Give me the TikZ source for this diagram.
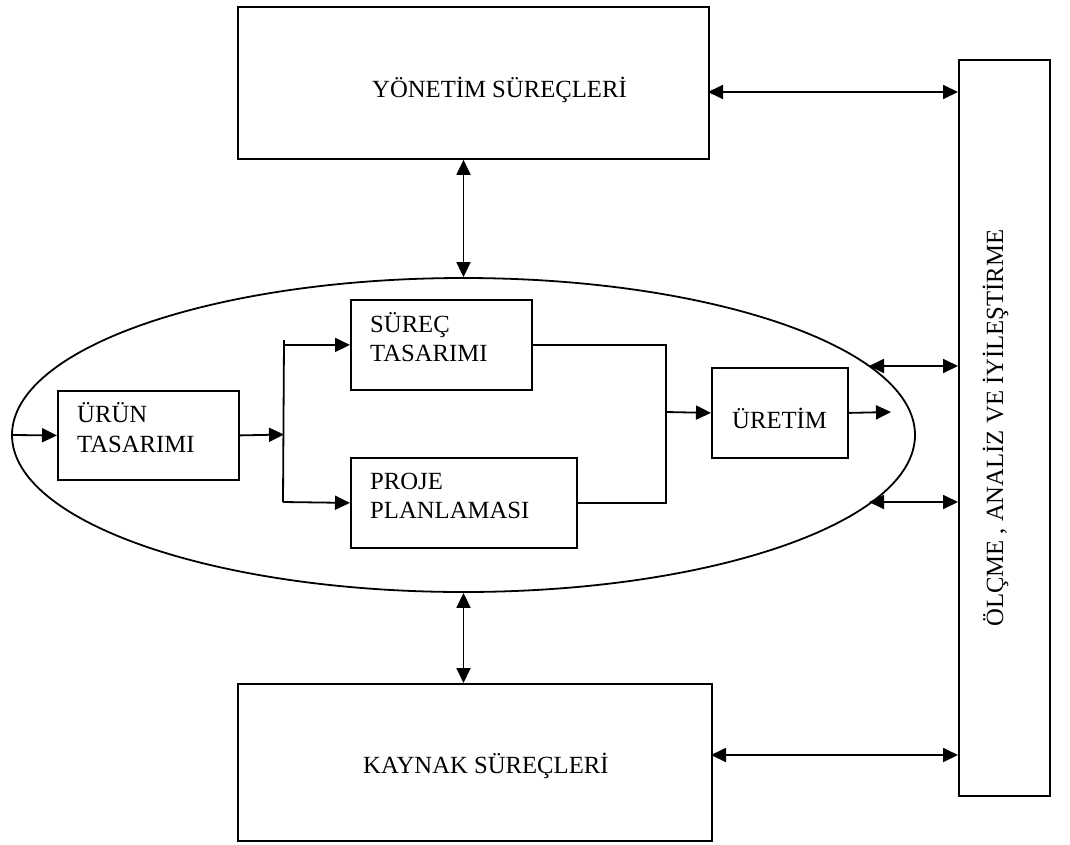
\documentclass[tikz,border=0pt]{standalone}
\usepackage{fontspec}
\setmainfont{Liberation Serif}
\usetikzlibrary{arrows.meta,shapes.geometric}

\begin{document}
\begin{tikzpicture}[x=1pt,y=-1pt,
  box/.style={draw, line width=1.8pt, rectangle, inner sep=0pt, anchor=north west},
  lbl/.style={anchor=base west, inner sep=0pt, font=\fontsize{24.7}{29}\selectfont},
  conn/.style={line width=1.8pt},
  arr/.style={conn, -{Triangle[length=15pt,width=14pt]}},
  dbl/.style={conn, {Triangle[length=15pt,width=14pt]}-{Triangle[length=15pt,width=14pt]}}]

  \useasboundingbox (0,0) rectangle (1070,844);

  % process ellipse
  \node[draw, line width=1.8pt, ellipse, inner sep=0pt,
        minimum width=903pt, minimum height=314pt] (ell) at (463.5,435) {};

  % outer boxes
  \node[box, minimum width=471pt, minimum height=152pt] (yon) at (237,6) {};
  \node[box, minimum width=474pt, minimum height=157pt] (kay) at (237,683) {};
  \node[box, minimum width=91pt, minimum height=736pt] (olc) at (958,59) {};

  % inner boxes
  \node[box, minimum width=181pt, minimum height=89pt] (urun) at (57,390) {};
  \node[box, minimum width=181pt, minimum height=90pt] (surec) at (350,299) {};
  \node[box, minimum width=226pt, minimum height=90pt] (proje) at (350,457) {};
  \node[box, minimum width=136pt, minimum height=90pt] (uretim) at (711,367) {};

  % labels
  \node[lbl] (yonT) at (372,97) {YÖNETİM SÜREÇLERİ};
  \node[lbl] (kayT) at (363,773) {KAYNAK SÜREÇLERİ};
  \node[lbl] (urunA) at (77,422) {ÜRÜN};
  \node[lbl] (urunB) at (77,452) {TASARIMI};
  \node[lbl] (surecA) at (370,332) {SÜREÇ};
  \node[lbl] (surecB) at (370,361) {TASARIMI};
  \node[lbl] (projeA) at (370,489) {PROJE};
  \node[lbl] (projeB) at (370,518) {PLANLAMASI};
  \node[lbl] (uretimT) at (732,428) {ÜRETİM};
  \node[lbl, rotate=90] (olcT) at (1003,627) {ÖLÇME , ANALİZ VE İYİLEŞTİRME};

  % junction points
  \coordinate (split) at (284,434.5);
  \coordinate (forkTop) at (284,340);
  \coordinate (forkBot) at (283,502);
  \coordinate (merge) at (666,412);
  \coordinate (out) at (891,412);
  \coordinate (e1) at (869,366);
  \coordinate (e2) at (869,502);
  \coordinate (y1) at (708,92);
  \coordinate (k1) at (711,755);

  % flow inside the ellipse
  \draw[arr] (ell.west) -- (urun.west);
  \draw[arr] (urun.east) -- (split);
  \draw[conn] (forkTop) -- (forkBot);
  \draw[arr] (forkTop |- surec.west) -- (surec.west);
  \draw[arr] (forkBot) -- (proje.west);
  \draw[conn] (surec.east) -- (merge |- surec.east) -- (merge |- proje.east) -- (proje.east);
  \draw[arr] (merge) -- (uretim.west);
  \draw[arr] (uretim.east) -- (out);

  % two-way links
  \draw[dbl] (ell.north |- yon.south) -- (ell.north);
  \draw[dbl] (ell.south) -- (ell.south |- kay.north);
  \draw[dbl] (y1) -- (y1 -| olc.west);
  \draw[dbl] (k1) -- (k1 -| olc.west);
  \draw[dbl] (e1) -- (e1 -| olc.west);
  \draw[dbl] (e2) -- (e2 -| olc.west);
\end{tikzpicture}
\end{document}
